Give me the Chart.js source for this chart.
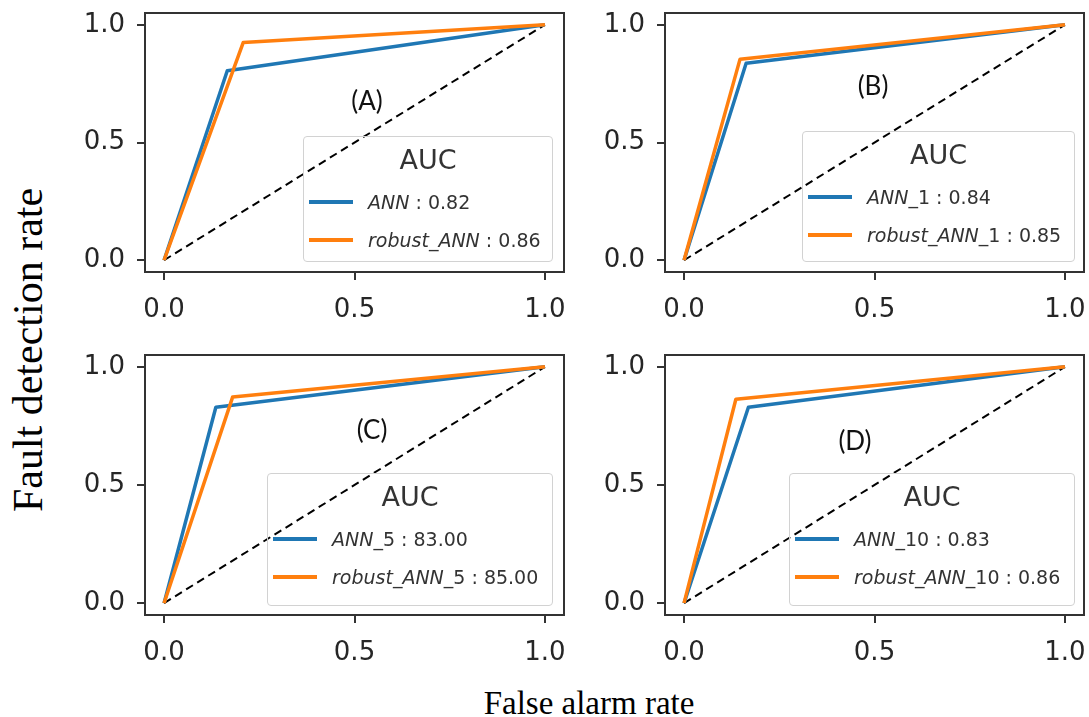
<!DOCTYPE html>
<html>
<head>
<meta charset="utf-8">
<script src="https://cdn.jsdelivr.net/npm/chart.js@4.4.1/dist/chart.umd.min.js"></script>
<style>
  body { margin: 0; background: #fff; }
  #figura { position: relative; width: 1089px; height: 717px; background: #fff; overflow: hidden; }
  #figura canvas { position: absolute; }
  .leyenda { position: absolute; border: 1px solid #d2d2d2; border-radius: 4px; box-sizing: border-box; font-family: 'DejaVu Sans', sans-serif; color: #333; }
  .leyenda .titulo { position: absolute; left: 0; right: 0; text-align: center; font-size: 27px; line-height: 1; transform: translateY(-50%); }
  .leyenda .trazo { position: absolute; left: 5px; width: 44px; height: 3.5px; margin-top: -1.75px; }
  .leyenda .texto { position: absolute; font-size: 19px; line-height: 1; white-space: nowrap; transform: translateY(-50%); }
  .etiqueta { position: absolute; font-family: Lato, 'Open Sans', sans-serif; font-size: 26px; color: #111; transform: translate(-50%, -50%); white-space: nowrap; }
  .titulo-eje { position: absolute; font-family: 'Liberation Serif', serif; color: #000; white-space: nowrap; }
</style>
</head>
<body>
<div id="figura"></div>
<script>
// Datos
const panelLabels = ['(A)', '(B)', '(C)', '(D)'];
const annNames = ['ANN', 'ANN_1', 'ANN_5', 'ANN_10'];
const robustNames = ['robust_ANN', 'robust_ANN_1', 'robust_ANN_5', 'robust_ANN_10'];
const annAuc = ['0.82', '0.84', '83.00', '0.83'];
const robustAuc = ['0.86', '0.85', '85.00', '0.86'];
const annFpr = [[0, 0.166, 1], [0, 0.163, 1], [0, 0.136, 1], [0, 0.169, 1]];
const annTpr = [[0, 0.805, 1], [0, 0.837, 1], [0, 0.829, 1], [0, 0.829, 1]];
const robustFpr = [[0, 0.208, 1], [0, 0.147, 1], [0, 0.180, 1], [0, 0.136, 1]];
const robustTpr = [[0, 0.925, 1], [0, 0.854, 1], [0, 0.872, 1], [0, 0.863, 1]];
const chanceLine = [0, 1];
const xTicks = [0, 0.5, 1];
const yTicks = [0, 0.5, 1];

// Posiciones (area del grafico, leyenda y etiqueta) de cada panel
const paneles = [
  { left: 145, top: 13, h: 259, leyenda: [158, 123, 250, 126], etiqueta: [222, 87] },
  { left: 665, top: 13, h: 259, leyenda: [137, 118, 273, 131], etiqueta: [208, 72] },
  { left: 145, top: 355, h: 260, leyenda: [122, 118, 286, 133], etiqueta: [227, 74] },
  { left: 665, top: 355, h: 260, leyenda: [124, 118, 286, 133], etiqueta: [190, 85] }
];
const anchoArea = 419;
const azul = '#1f77b4';
const naranja = '#ff7f0e';
const fuenteTicks = { family: 'DejaVu Sans', size: 26 };

const figura = document.getElementById('figura');

// Marco completo alrededor del area
const marco = {
  id: 'marco',
  afterDraw(chart) {
    const { ctx, chartArea: a } = chart;
    ctx.save();
    ctx.strokeStyle = '#333';
    ctx.lineWidth = 2;
    ctx.strokeRect(a.left, a.top, a.right - a.left, a.bottom - a.top);
    ctx.restore();
  }
};

function puntos(xs, ys) {
  return xs.map((x, i) => ({ x: x, y: ys[i] }));
}

function serie(data, color, ancho, dash) {
  return {
    data: data,
    borderColor: color,
    borderWidth: ancho,
    borderDash: dash || [],
    borderJoinStyle: 'round',
    showLine: true,
    pointRadius: 0,
    fill: false
  };
}

// Escala fija: -0.05 a 1.05 y tamaño exacto, sin relleno extra
function escala(ticks, lado, tam, pad) {
  return {
    type: 'linear',
    min: -0.05,
    max: 1.05,
    afterBuildTicks: s => { s.ticks = ticks.map(v => ({ value: v })); },
    afterFit: s => {
      s[lado] = tam;
      s.paddingTop = 0;
      s.paddingBottom = 0;
      s.paddingLeft = 0;
      s.paddingRight = 0;
    },
    ticks: {
      font: fuenteTicks,
      color: '#262626',
      padding: pad,
      maxRotation: 0,
      autoSkip: false,
      callback: v => Number(v).toFixed(1)
    },
    grid: { drawOnChartArea: false, tickLength: 8, color: '#333', lineWidth: 2 },
    border: { display: false }
  };
}

paneles.forEach((p, i) => {
  const canvas = document.createElement('canvas');
  const w = 90 + anchoArea + 12;
  const h = 13 + p.h + 62;
  canvas.width = w;
  canvas.height = h;
  canvas.style.left = (p.left - 90) + 'px';
  canvas.style.top = (p.top - 13) + 'px';
  canvas.style.width = w + 'px';
  canvas.style.height = h + 'px';
  figura.appendChild(canvas);

  new Chart(canvas, {
    type: 'scatter',
    data: {
      datasets: [
        serie(puntos(robustFpr[i], robustTpr[i]), naranja, 3.5),
        serie(puntos(annFpr[i], annTpr[i]), azul, 3.5),
        serie(puntos(chanceLine, chanceLine), '#000', 2, [8, 5])
      ]
    },
    options: {
      responsive: false,
      maintainAspectRatio: false,
      animation: false,
      devicePixelRatio: 1,
      layout: { padding: { top: 13, right: 12, left: 0, bottom: 0 } },
      plugins: { legend: { display: false }, tooltip: { enabled: false } },
      scales: {
        x: escala(xTicks, 'height', 62, 15),
        y: escala(yTicks, 'width', 90, 12)
      }
    },
    plugins: [marco]
  });

  // Leyenda
  const [lx, ly, lw, lh] = p.leyenda;
  const ley = document.createElement('div');
  ley.className = 'leyenda';
  ley.style.left = (p.left + lx) + 'px';
  ley.style.top = (p.top + ly) + 'px';
  ley.style.width = lw + 'px';
  ley.style.height = lh + 'px';
  const nombre = n => `<i>${n.replace(/_\d+$/, '')}</i>${(n.match(/_\d+$/) || [''])[0]}`;
  ley.innerHTML = `
    <div class="titulo" style="top:22px">AUC</div>
    <div class="trazo" style="top:65px;background:${azul}"></div>
    <div class="texto" style="top:65px;left:64px">${nombre(annNames[i])} : ${annAuc[i]}</div>
    <div class="trazo" style="top:103px;background:${naranja}"></div>
    <div class="texto" style="top:103px;left:64px">${nombre(robustNames[i])} : ${robustAuc[i]}</div>
  `;
  figura.appendChild(ley);

  // Etiqueta del panel
  const et = document.createElement('div');
  et.className = 'etiqueta';
  et.style.left = (p.left + p.etiqueta[0]) + 'px';
  et.style.top = (p.top + p.etiqueta[1]) + 'px';
  et.textContent = panelLabels[i];
  figura.appendChild(et);
});

// Titulos de los ejes
const tituloX = document.createElement('div');
tituloX.className = 'titulo-eje';
tituloX.textContent = 'False alarm rate';
tituloX.style.fontSize = '33px';
tituloX.style.left = '589px';
tituloX.style.top = '703px';
tituloX.style.transform = 'translate(-50%, -50%)';
figura.appendChild(tituloX);

const tituloY = document.createElement('div');
tituloY.className = 'titulo-eje';
tituloY.textContent = 'Fault detection rate';
tituloY.style.fontSize = '42px';
tituloY.style.left = '28px';
tituloY.style.top = '350px';
tituloY.style.transform = 'translate(-50%, -50%) rotate(-90deg)';
figura.appendChild(tituloY);
</script>
</body>
</html>
